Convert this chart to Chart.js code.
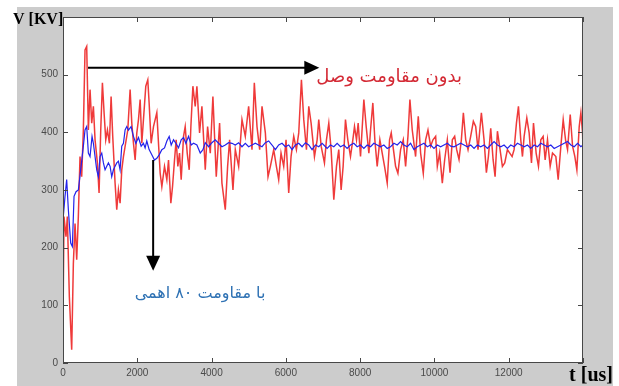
<!DOCTYPE html>
<html>
<head>
<meta charset="utf-8">
<script src="https://cdn.jsdelivr.net/npm/chart.js@4"></script>
<style>
  html, body { margin: 0; padding: 0; background: #fff; }
  canvas { display: block; }
</style>
</head>
<body>
<canvas id="chart" width="619" height="386"></canvas>
<script>
//Voltage without closing resistor (red)
const timeRed = [0, 27, 81, 117, 171, 234, 279, 324, 369, 413, 458, 503, 548, 593, 638, 683, 728, 773, 818, 863,
    926, 971, 1016, 1061, 1106, 1151, 1196, 1250, 1295, 1339, 1402, 1447, 1492, 1537, 1582, 1627, 1744, 1807, 1852, 1897,
    1942, 1987, 2032, 2077, 2122, 2166, 2229, 2283, 2319, 2373, 2436, 2481, 2526, 2571, 2616, 2661, 2733, 2796, 2841, 2904,
    2949, 3002, 3047, 3092, 3137, 3182, 3245, 3290, 3344, 3398, 3443, 3497, 3560, 3605, 3677, 3740, 3830, 3893, 3965, 4036,
    4126, 4216, 4279, 4369, 4432, 4486, 4576, 4639, 4729, 4819, 4908, 4998, 5088, 5151, 5223, 5295, 5358, 5448, 5520, 5583,
    5673, 5745, 5807, 5870, 5942, 6005, 6077, 6140, 6212, 6284, 6347, 6419, 6482, 6554, 6617, 6680, 6770, 6842, 6886, 6950,
    7039, 7093, 7156, 7219, 7291, 7363, 7425, 7488, 7542, 7605, 7668, 7740, 7803, 7848, 7902, 7947, 8010, 8100, 8163, 8235,
    8280, 8342, 8396, 8459, 8531, 8594, 8657, 8729, 8792, 8837, 8909, 8954, 9017, 9089, 9161, 9224, 9287, 9340, 9403, 9493,
    9565, 9628, 9700, 9763, 9826, 9898, 9961, 10033, 10078, 10140, 10212, 10275, 10347, 10420, 10482, 10545, 10599, 10662, 10725, 10779,
    10842, 10905, 10976, 11048, 11111, 11174, 11264, 11336, 11399, 11453, 11516, 11579, 11633, 11696, 11767, 11830, 11893, 11965, 12028, 12091,
    12145, 12208, 12262, 12325, 12370, 12415, 12487, 12550, 12613, 12667, 12738, 12801, 12864, 12927, 12981, 13044, 13116, 13179, 13269, 13332,
    13404, 13467, 13530, 13584, 13656, 13719, 13781, 13835, 13898, 13943, 13988, 14000];
const kvRed = [69, 254, 219, 254, 115, 23, 173, 242, 179, 254, 358, 323, 404, 543, 549, 404, 474, 416, 445, 387,
    347, 295, 404, 486, 434, 387, 404, 381, 462, 393, 312, 266, 300, 277, 335, 358, 404, 474, 416, 381,
    352, 399, 422, 457, 381, 422, 480, 491, 451, 381, 410, 422, 434, 381, 329, 306, 341, 318, 352, 277,
    306, 352, 387, 341, 364, 318, 393, 410, 364, 335, 410, 480, 445, 480, 399, 445, 335, 410, 364, 462,
    323, 416, 312, 266, 341, 387, 300, 370, 341, 422, 393, 445, 370, 486, 410, 370, 445, 399, 323, 341,
    370, 341, 318, 364, 341, 387, 295, 358, 393, 370, 399, 491, 422, 370, 445, 416, 358, 387, 422, 376,
    347, 387, 416, 370, 283, 341, 370, 300, 341, 422, 387, 358, 387, 410, 387, 416, 358, 457, 410, 364,
    404, 451, 387, 341, 387, 364, 341, 312, 387, 399, 364, 341, 329, 370, 387, 341, 393, 457, 404, 358,
    428, 364, 329, 387, 404, 376, 387, 393, 341, 364, 312, 352, 387, 330, 387, 393, 370, 353, 387, 434,
    387, 370, 393, 419, 410, 370, 434, 387, 330, 358, 407, 353, 323, 402, 370, 341, 347, 370, 364, 358,
    370, 416, 445, 387, 358, 393, 425, 399, 347, 416, 364, 341, 387, 393, 352, 387, 341, 364, 358, 318,
    376, 422, 387, 370, 431, 376, 358, 335, 410, 434, 399, 370];

//Voltage with 80 ohm closing resistor (blue)
const timeBlue = [0, 10, 54, 99, 144, 207, 252, 297, 351, 413, 476, 548, 593, 638, 683, 728, 782, 818, 863, 908,
    953, 998, 1043, 1088, 1133, 1178, 1223, 1268, 1312, 1357, 1402, 1447, 1492, 1537, 1582, 1627, 1672, 1717, 1762, 1834,
    1897, 1960, 2032, 2104, 2166, 2211, 2256, 2319, 2391, 2463, 2526, 2589, 2661, 2733, 2796, 2859, 2913, 2976, 3038, 3110,
    3182, 3245, 3308, 3380, 3452, 3515, 3605, 3695, 3767, 3830, 3920, 4009, 4099, 4189, 4279, 4369, 4459, 4549, 4639, 4729,
    4818, 4908, 4998, 5088, 5178, 5268, 5358, 5448, 5538, 5628, 5717, 5807, 5897, 5987, 6077, 6167, 6257, 6347, 6437, 6527,
    6616, 6706, 6796, 6886, 6976, 7021, 7111, 7201, 7291, 7381, 7471, 7561, 7650, 7740, 7830, 7920, 8010, 8100, 8190, 8280,
    8369, 8459, 8549, 8639, 8729, 8819, 8909, 8999, 9089, 9178, 9268, 9358, 9448, 9538, 9628, 9718, 9808, 9898, 9988, 10078,
    10167, 10257, 10347, 10437, 10527, 10617, 10707, 10797, 10887, 10977, 11066, 11156, 11246, 11336, 11426, 11516, 11606, 11696, 11786, 11875,
    11965, 12055, 12145, 12235, 12325, 12415, 12505, 12595, 12685, 12775, 12865, 12954, 13044, 13134, 13224, 13314, 13404, 13494, 13584, 13674,
    13764, 13854, 13943, 14000];
const kvBlue = [380, 255, 289, 318, 266, 208, 202, 289, 297, 300, 335, 376, 404, 410, 364, 358, 393, 381, 358, 335,
    323, 358, 364, 347, 335, 341, 347, 341, 323, 335, 341, 347, 350, 335, 376, 381, 404, 410, 404, 410,
    393, 381, 391, 376, 381, 373, 385, 370, 361, 352, 355, 361, 370, 373, 385, 393, 378, 387, 381, 373,
    387, 391, 381, 393, 378, 381, 378, 364, 370, 382, 375, 382, 387, 381, 375, 378, 382, 381, 378, 382,
    375, 381, 375, 378, 381, 378, 375, 382, 385, 378, 370, 378, 381, 375, 378, 370, 378, 381, 375, 382,
    378, 370, 378, 375, 381, 378, 372, 378, 375, 381, 375, 378, 372, 378, 381, 375, 378, 372, 378, 375,
    381, 378, 375, 378, 372, 375, 381, 378, 384, 378, 375, 381, 370, 375, 378, 381, 375, 378, 372, 378,
    375, 378, 381, 376, 375, 378, 381, 378, 375, 378, 372, 378, 375, 378, 372, 378, 384, 378, 375, 378,
    372, 378, 375, 381, 378, 375, 378, 372, 378, 375, 381, 378, 375, 378, 372, 375, 378, 381, 384, 378,
    375, 381, 375, 378];

//Axis tick labels
const xTicks = [0, 2000, 4000, 6000, 8000, 10000, 12000, 14000];
const yTicks = [0, 100, 200, 300, 400, 500, 600];
const xTickLabels = ['0', '2000', '4000', '6000', '8000', '10000', '12000', ''];
const yTickLabels = ['0', '100', '200', '300', '400', '500', ''];

const yTitle = 'V [KV]';
const xTitle = 't [us]';
const redLabel = 'بدون مقاومت وصل';
const blueLabel = 'با مقاومت ۸۰ اهمی';

//Arrow and label anchors in data units
const redArrow = { x0: 674, x1: 6900, y: 512 };
const blueArrow = { x: 2427, y0: 352, y1: 160 };
const redLabelAt = { x: 8780, y: 496 };
const blueLabelAt = { x: 3690, y: 120 };

const ctx = document.getElementById('chart').getContext('2d');

//Grey figure background and white axes box
const backgroundPlugin = {
    id: 'background',
    beforeDraw(chart) {
        const c = chart.ctx;
        const a = chart.chartArea;
        c.save();
        c.fillStyle = '#ffffff';
        c.fillRect(0, 0, chart.width, chart.height);
        c.fillStyle = '#cccccc';
        c.fillRect(17, 7, 596, chart.height - 7);
        c.fillStyle = '#ffffff';
        c.fillRect(a.left, a.top, a.right - a.left, a.bottom - a.top);
        c.restore();
    }
};

//Box, inward tick marks, arrows and text
const decorPlugin = {
    id: 'decor',
    afterDatasetsDraw(chart) {
        const c = chart.ctx;
        const a = chart.chartArea;
        const xs = chart.scales.x;
        const ys = chart.scales.y;
        c.save();

        c.strokeStyle = '#474747';
        c.lineWidth = 1;
        c.strokeRect(a.left + 0.5, a.top + 0.5, a.right - a.left - 1, a.bottom - a.top - 1);

        c.beginPath();
        xTicks.forEach(v => {
            const px = Math.round(xs.getPixelForValue(v)) + 0.5;
            c.moveTo(px, a.bottom); c.lineTo(px, a.bottom - 5);
            c.moveTo(px, a.top); c.lineTo(px, a.top + 5);
        });
        yTicks.forEach(v => {
            const py = Math.round(ys.getPixelForValue(v)) + 0.5;
            c.moveTo(a.left, py); c.lineTo(a.left + 5, py);
            c.moveTo(a.right, py); c.lineTo(a.right - 5, py);
        });
        c.stroke();

        //Horizontal arrow
        c.strokeStyle = '#000';
        c.fillStyle = '#000';
        c.lineWidth = 2;
        const hx0 = xs.getPixelForValue(redArrow.x0);
        const hx1 = xs.getPixelForValue(redArrow.x1);
        const hy = ys.getPixelForValue(redArrow.y);
        c.beginPath();
        c.moveTo(hx0, hy); c.lineTo(hx1 - 14, hy);
        c.stroke();
        c.beginPath();
        c.moveTo(hx1, hy); c.lineTo(hx1 - 15, hy - 7); c.lineTo(hx1 - 15, hy + 7);
        c.closePath();
        c.fill();

        //Vertical arrow
        const vx = xs.getPixelForValue(blueArrow.x);
        const vy0 = ys.getPixelForValue(blueArrow.y0);
        const vy1 = ys.getPixelForValue(blueArrow.y1);
        c.beginPath();
        c.moveTo(vx, vy0); c.lineTo(vx, vy1 - 14);
        c.stroke();
        c.beginPath();
        c.moveTo(vx, vy1); c.lineTo(vx - 7, vy1 - 15); c.lineTo(vx + 7, vy1 - 15);
        c.closePath();
        c.fill();

        //Curve labels
        c.textAlign = 'center';
        c.textBaseline = 'middle';
        c.font = '18px "DejaVu Sans"';
        c.fillStyle = '#d42a35';
        c.fillText(redLabel, xs.getPixelForValue(redLabelAt.x), ys.getPixelForValue(redLabelAt.y));
        c.font = '16px "DejaVu Sans"';
        c.fillStyle = '#2f72b4';
        c.fillText(blueLabel, xs.getPixelForValue(blueLabelAt.x), ys.getPixelForValue(blueLabelAt.y));

        //Axis titles
        c.fillStyle = '#000';
        c.font = 'bold 16px "Liberation Serif"';
        c.textAlign = 'left';
        c.textBaseline = 'alphabetic';
        c.fillText(yTitle, 13, 24);
        c.font = 'bold 20px "Liberation Serif"';
        c.textAlign = 'right';
        c.fillText(xTitle, 613, 381);
        c.restore();
    }
};

new Chart(ctx, {
    type: 'line',
    data: {
        datasets: [{
            label: 'blue',
            data: timeBlue.map((t, i) => ({ x: t, y: kvBlue[i] })),
            borderColor: 'rgb(35, 35, 235)',
            borderWidth: 1.2,
            pointRadius: 0,
            tension: 0
        }, {
            label: 'red',
            data: timeRed.map((t, i) => ({ x: t, y: kvRed[i] })),
            borderColor: 'rgba(236, 24, 24, 0.85)',
            borderWidth: 1.5,
            pointRadius: 0,
            tension: 0
        }]
    },
    options: {
        responsive: false,
        animation: false,
        layout: { padding: { left: 0, top: 17, right: 36, bottom: 0 } },
        plugins: {
            legend: { display: false },
            tooltip: { enabled: false }
        },
        scales: {
            x: {
                type: 'linear',
                min: 0,
                max: 14000,
                afterBuildTicks: scale => { scale.ticks = xTicks.map(v => ({ value: v })); },
                afterFit: scale => { scale.height = 23; },
                grid: { display: false, drawTicks: false },
                border: { display: false },
                ticks: {
                    padding: 4,
                    maxRotation: 0,
                    autoSkip: false,
                    color: '#4a4a4a',
                    font: { family: 'Liberation Sans', size: 10 },
                    callback: (v, i) => xTickLabels[i]
                }
            },
            y: {
                min: 0,
                max: 600,
                afterBuildTicks: scale => { scale.ticks = yTicks.map(v => ({ value: v })); },
                afterFit: scale => { scale.width = 63; },
                grid: { display: false, drawTicks: false },
                border: { display: false },
                ticks: {
                    padding: 5,
                    autoSkip: false,
                    color: '#4a4a4a',
                    font: { family: 'Liberation Sans', size: 10 },
                    callback: (v, i) => yTickLabels[i]
                }
            }
        }
    },
    plugins: [backgroundPlugin, decorPlugin]
});
</script>
</body>
</html>
